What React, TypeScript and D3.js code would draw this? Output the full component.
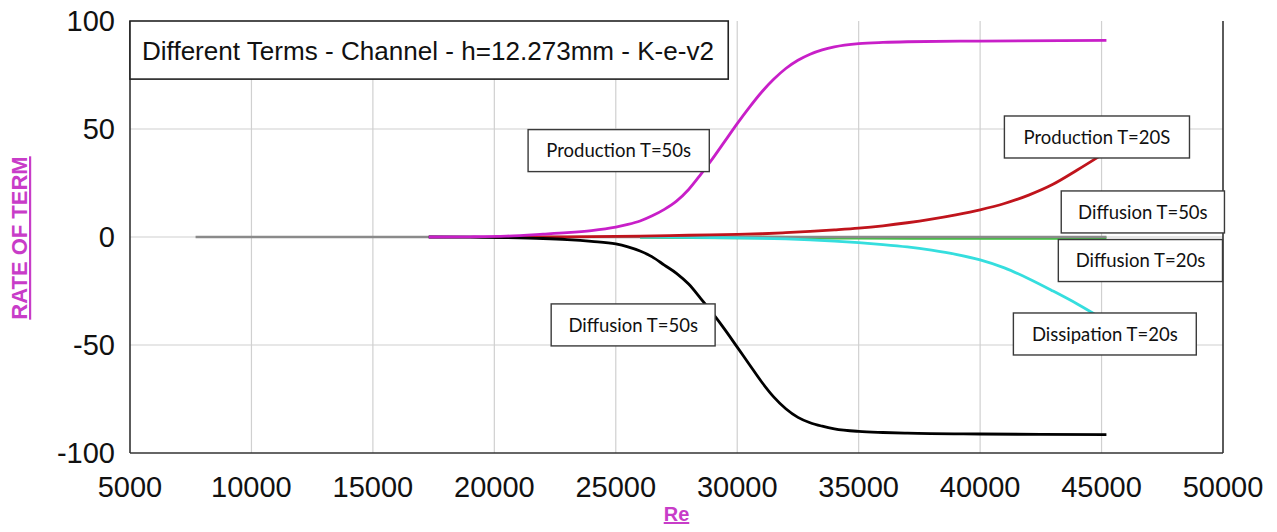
import React from "react";
import * as d3 from "d3";

// ---------- data ----------
const xTicks = [5000, 10000, 15000, 20000, 25000, 30000, 35000, 40000, 45000, 50000];
const yTicks = [-100, -50, 0, 50, 100];

const baseRe = [7700, 45200];
const baseVal = [0, 0];

const prod50Re = [17300, 19000, 20500, 22000, 23000, 24000, 25000, 25500, 26000, 26500, 27000, 27500, 28000, 28500, 29000, 29500, 30000, 30500, 31000, 31500, 32000, 32500, 33000, 33500, 34000, 35000, 36000, 37000, 40000, 45200];
const prod50Val = [0, 0.1, 0.4, 1.3, 2.0, 3.0, 4.6, 5.8, 7.4, 9.8, 12.8, 16.6, 22.0, 29.0, 36.5, 44.5, 52.5, 60.0, 67.0, 73.0, 78.0, 81.8, 84.6, 86.6, 88.0, 89.5, 90.1, 90.4, 90.7, 91];

const diff50Re = [17300, 19000, 20500, 22000, 23000, 24000, 25000, 25500, 26000, 26500, 27000, 27500, 28000, 28500, 29000, 29500, 30000, 30500, 31000, 31500, 32000, 32500, 33000, 33500, 34000, 35000, 36000, 37000, 40000, 42500, 45200];
const diff50Val = [0, -0.1, -0.3, -0.7, -1.2, -2.0, -3.2, -4.6, -6.5, -9.2, -13, -16.8, -21.8, -28.5, -35.5, -43, -51, -59, -67, -74, -79.5, -83.5, -86, -87.6, -88.8, -90, -90.5, -90.8, -91.2, -91.4, -91.5];

const prod20Re = [20000, 23000, 26000, 28000, 30000, 31000, 32000, 33000, 34000, 35000, 36000, 37000, 38000, 39000, 40000, 41000, 42000, 43000, 44000, 45200];
const prod20Val = [0, 0.1, 0.4, 0.8, 1.2, 1.5, 2.0, 2.6, 3.3, 4.1, 5.2, 6.6, 8.3, 10.3, 12.6, 15.5, 19.4, 24.4, 31.0, 39.4];

const diss20Re = [26000, 28000, 30000, 31000, 32000, 33000, 34000, 35000, 36000, 37000, 38000, 39000, 40000, 41000, 42000, 43000, 44000, 45200];
const diss20Val = [0, -0.15, -0.4, -0.6, -0.9, -1.3, -1.9, -2.6, -3.5, -4.6, -6.1, -8.0, -10.6, -14.3, -19.3, -25.0, -31.0, -39];

const diff20Re = [26000, 30000, 35000, 40000, 45200];
const diff20Val = [0, -0.2, -0.4, -0.5, -0.5];

const titleText = "Different Terms - Channel - h=12.273mm - K-e-v2";
const labelTexts = ["Production T=50s", "Production T=20S", "Diffusion T=50s", "Diffusion T=20s", "Dissipation T=20s", "Diffusion T=50s"];
// label box extents in data units (Re from/to, centre value)
const labelRe0 = [21390, 41000, 43340, 43220, 41370, 22340];
const labelRe1 = [28850, 48620, 50060, 49980, 48900, 29090];
const labelVal = [40.0, 46.3, 11.6, -10.9, -44.9, -40.7];

// ---------- layout ----------
const W = 1277, H = 532;
const left = 130, right = 1223, top = 21, bottom = 453;

const series = [
  { re: diff20Re, val: diff20Val, color: "#3cc03c", width: 3.4 },
  { re: baseRe, val: baseVal, color: "#8a8a8a", width: 2.6 },
  { re: diss20Re, val: diss20Val, color: "#35dede", width: 2.8 },
  { re: prod20Re, val: prod20Val, color: "#c0141c", width: 2.8 },
  { re: diff50Re, val: diff50Val, color: "#000000", width: 2.8 },
  { re: prod50Re, val: prod50Val, color: "#c81fc8", width: 2.8 },
];

export default function App() {
  const x = d3.scaleLinear().domain([5000, 50000]).range([left, right]);
  const y = d3.scaleLinear().domain([-100, 100]).range([bottom, top]);
  const line = d3
    .line<[number, number]>()
    .x((d) => x(d[0]))
    .y((d) => y(d[1]))
    .curve(d3.curveMonotoneX);

  const axisFont = "'Liberation Sans', Arial, sans-serif";
  const labelFont = "Lato, 'Open Sans', sans-serif";
  const magenta = "#c83cc8";

  return (
    <svg width={W} height={H} style={{ position: "absolute", left: 0, top: 0, background: "#fff" }}>
      <rect x={0} y={0} width={W} height={H} fill="#fff" />
      {/* grid */}
      {xTicks.slice(1, -1).map((t) => (
        <line key={"gx" + t} x1={x(t)} x2={x(t)} y1={top} y2={bottom} stroke="#d0d0d0" strokeWidth={1.2} />
      ))}
      {yTicks.slice(1, -1).map((t) => (
        <line key={"gy" + t} x1={left} x2={right} y1={y(t)} y2={y(t)} stroke="#cfcfcf" strokeWidth={1.2} />
      ))}
      {/* spines */}
      <line x1={left} x2={left} y1={top} y2={bottom} stroke="#333" strokeWidth={1.6} />
      <line x1={left} x2={right} y1={bottom} y2={bottom} stroke="#333" strokeWidth={1.6} />
      <line x1={right} x2={right} y1={top} y2={bottom} stroke="#333" strokeWidth={1.6} />

      {/* series */}
      {series.map((s, i) => (
        <path
          key={"s" + i}
          d={line(s.re.map((r, j) => [r, s.val[j]] as [number, number])) || ""}
          fill="none"
          stroke={s.color}
          strokeWidth={s.width}
          strokeLinejoin="round"
        />
      ))}

      {/* title box */}
      <rect x={x(5000)} y={y(100)} width={x(29630) - x(5000)} height={y(73.1) - y(100)} fill="#fff" stroke="#222" strokeWidth={1.6} />
      <text x={x(5000) + 12} y={y(100) + 39} fontFamily={axisFont} fontSize={25} fill="#111" textLength={572} lengthAdjust="spacingAndGlyphs">
        {titleText}
      </text>

      {/* labels */}
      {labelTexts.map((t, i) => {
        const x0 = x(labelRe0[i]);
        const x1 = x(labelRe1[i]);
        const yc = y(labelVal[i]);
        return (
          <g key={"l" + i}>
            <rect x={x0} y={yc - 21} width={x1 - x0} height={42} fill="#fff" stroke="#3a3a3a" strokeWidth={1.4} />
            <text x={(x0 + x1) / 2} y={yc} dy="0.36em" textAnchor="middle" fontFamily={labelFont} fontSize={18.5} fill="#111">
              {t}
            </text>
          </g>
        );
      })}

      {/* y ticks */}
      {yTicks.map((t) => (
        <text key={"yt" + t} x={115} y={y(t)} dy="0.36em" textAnchor="end" fontFamily={axisFont} fontSize={29} fill="#111">
          {t}
        </text>
      ))}
      {/* x ticks */}
      {xTicks.map((t) => (
        <text key={"xt" + t} x={x(t)} y={497} textAnchor="middle" fontFamily={axisFont} fontSize={29} fill="#111">
          {t}
        </text>
      ))}

      {/* axis titles */}
      <text x={(left + right) / 2} y={521} textAnchor="middle" fontFamily={axisFont} fontSize={20} fontWeight="bold" fill={magenta} textDecoration="underline">
        Re
      </text>
      <text
        transform={`translate(27, ${(top + bottom) / 2 + 1}) rotate(-90)`}
        textAnchor="middle"
        fontFamily={axisFont}
        fontSize={22}
        fontWeight="bold"
        fill={magenta}
        textDecoration="underline"
      >
        RATE OF TERM
      </text>
    </svg>
  );
}
